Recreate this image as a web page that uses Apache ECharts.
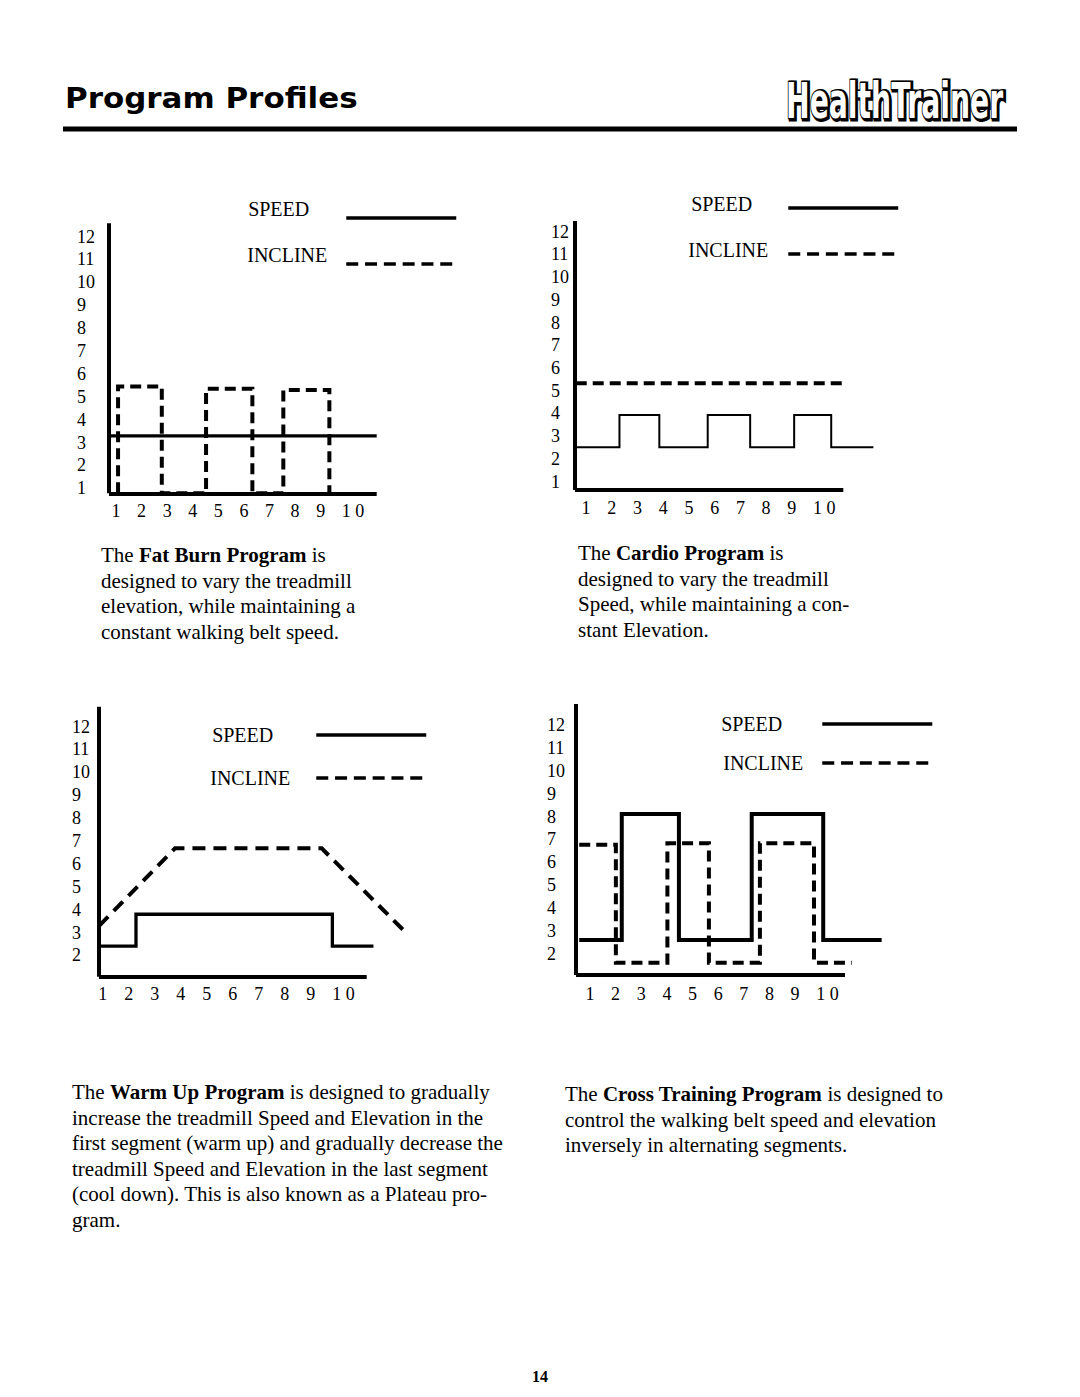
<!DOCTYPE html>
<html>
<head>
<meta charset="utf-8">
<script src="https://cdn.jsdelivr.net/npm/echarts@6/dist/echarts.min.js"></script>
<style>
html,body{margin:0;padding:0;background:#fff;}
#c{width:1080px;height:1397px;}
</style>
</head>
<body>
<div id="c"></div>
<script>
// ---------- data ----------
const xTickValues = [1, 2, 3, 4, 5, 6, 7, 8, 9, 10];
const yTickValues = [1, 2, 3, 4, 5, 6, 7, 8, 9, 10, 11, 12];
const legendNames = ['SPEED', 'INCLINE'];

// Fat Burn Program: [segment start, level] (step profiles)
const fatBurnSpeed = [[0.73, 3.29], [11.19, 3.29]];
const fatBurnIncline = [[1.08, 0.78], [1.08, 5.45], [2.79, 0.78], [4.52, 5.35], [6.33, 0.78], [7.54, 5.3], [9.34, 0.78]];

// Cardio Program
const cardioSpeed = [[0.6, 2.51], [2.30, 3.93], [3.85, 2.51], [5.73, 3.93], [7.38, 2.51], [9.09, 3.93], [10.53, 2.51], [12.17, 2.51]];
const cardioIncline = [[0.6, 5.33], [11.07, 5.33]];

// Warm Up Program
const warmUpSpeed = [[0.86, 2.41], [2.28, 3.80], [9.83, 2.41], [11.41, 2.41]];
const warmUpIncline = [[0.86, 3.29], [3.78, 6.68], [9.42, 6.68], [12.75, 2.89]];

// Cross Training Program
const crossSpeed = [[0.58, 2.60], [2.24, 8.11], [4.47, 2.60], [7.31, 8.11], [10.1, 2.60], [12.38, 2.60]];
const crossIncline = [[0.58, 6.76], [2.01, 1.61], [4.02, 6.83], [5.64, 1.61], [7.63, 6.83], [9.74, 1.61], [11.21, 1.61]];

// ---------- texts ----------
const pageTitle = 'Program Profiles';
const logoText = 'HealthTrainer';
const pageNumber = '14';
const captionFatBurn = 'The {b|Fat Burn Program} is\ndesigned to vary the treadmill\nelevation, while maintaining a\nconstant walking belt speed.';
const captionCardio = 'The {b|Cardio Program} is\ndesigned to vary the treadmill\nSpeed, while maintaining a con-\nstant Elevation.';
const captionWarmUp = 'The {b|Warm Up Program} is designed to gradually\nincrease the treadmill Speed and Elevation in the\nfirst segment (warm up) and gradually decrease the\ntreadmill Speed and Elevation in the last segment\n(cool down). This is also known as a Plateau pro-\ngram.';
const captionCross = 'The {b|Cross Training Program} is designed to\ncontrol the walking belt speed and elevation\ninversely in alternating segments.';

// ---------- build option ----------
const SERIF = 'Liberation Serif';

// visible axes boxes
const gridBoxes = [
  {left: 109, top: 223.3, width: 267.7, height: 270},
  {left: 575, top: 221, width: 268.3, height: 269},
  {left: 99, top: 706.7, width: 267.7, height: 270},
  {left: 576, top: 704, width: 269, height: 271}
];
const xRanges = [[0.726, 11.19], [0.572, 11.0], [0.858, 11.15], [0.454, 10.95]];
const yRanges = [[0.78, 12.58], [0.63, 12.47], [1.07, 12.87], [1.07, 12.92]];
const yLabelMargins = [32, 24, 27, 29];
const xLabelMargins = [9, 9, 8, 10];
const DATA_X_MAX = 13; // profiles run past the drawn x axis

// data boxes: same scale as the visible axes, extended to the right
const dataBoxes = gridBoxes.map((g, i) => {
  const ppu = g.width / (xRanges[i][1] - xRanges[i][0]);
  return {left: g.left, top: g.top, height: g.height, width: (DATA_X_MAX - xRanges[i][0]) * ppu};
});

const axisLineStyle = {color: '#000', width: 4, cap: 'butt'};

const xAxes = gridBoxes.map((g, i) => ({
  type: 'value', gridIndex: i, min: xRanges[i][0], max: xRanges[i][1],
  axisLine: {show: true, onZero: false, lineStyle: axisLineStyle},
  axisTick: {show: false}, splitLine: {show: false},
  axisLabel: {
    customValues: xTickValues, margin: xLabelMargins[i],
    fontFamily: SERIF, fontSize: 18, color: '#000',
    formatter: v => (v === 10 ? '{t|1 0}' : String(v)),
    rich: {t: {padding: [0, 0, 0, 13.5], fontFamily: SERIF, fontSize: 18, color: '#000'}}
  }
})).concat(dataBoxes.map((g, i) => ({
  type: 'value', gridIndex: 4 + i, min: xRanges[i][0], max: DATA_X_MAX, show: false
})));

const yAxes = gridBoxes.map((g, i) => ({
  type: 'value', gridIndex: i, min: yRanges[i][0], max: yRanges[i][1],
  axisLine: {show: true, onZero: false, lineStyle: axisLineStyle},
  axisTick: {show: false}, splitLine: {show: false},
  axisLabel: {
    customValues: yTickValues, align: 'left', margin: yLabelMargins[i],
    fontFamily: SERIF, fontSize: 18, color: '#000'
  }
})).concat(dataBoxes.map((g, i) => ({
  type: 'value', gridIndex: 4 + i, min: yRanges[i][0], max: yRanges[i][1], show: false
})));

function lineSeries(name, idx, data, width, dash, step) {
  const s = {
    name: name, type: 'line', xAxisIndex: 4 + idx, yAxisIndex: 4 + idx, data: data,
    symbol: 'none', clip: false, silent: true, animation: false,
    itemStyle: {color: '#000'},
    lineStyle: {color: '#000', width: width, type: dash || 'solid', join: 'miter', cap: 'butt'}
  };
  if (step) s.step = 'end';
  return s;
}
const DASH = [11, 6];
const series = [
  lineSeries(legendNames[0], 0, fatBurnSpeed, 3.3, null, false),
  lineSeries(legendNames[1], 0, fatBurnIncline, 4, DASH, true),
  lineSeries(legendNames[0], 1, cardioSpeed, 2, null, true),
  lineSeries(legendNames[1], 1, cardioIncline, 4, DASH, false),
  lineSeries(legendNames[0], 2, warmUpSpeed, 3.3, null, true),
  lineSeries(legendNames[1], 2, warmUpIncline, 4, [13, 8], false),
  lineSeries(legendNames[0], 3, crossSpeed, 4, null, true),
  lineSeries(legendNames[1], 3, crossIncline, 4, DASH, true)
];

// legend layouts: right edge, top, gap, text pads, text raise (px above the key line)
const legendLayouts = [
  {right: 622, top: 199, gap: 8, pads: [32, 14], raise: 9},
  {right: 180, top: 194, gap: 18, pads: [31, 15], raise: 4},
  {right: 652, top: 725, gap: 23, pads: [38, 21], raise: 0},
  {right: 146, top: 714, gap: 19, pads: [35, 14], raise: 0}
];
const legends = legendLayouts.map(L => ({
  orient: 'vertical', align: 'right', right: L.right, top: L.top, padding: 0,
  itemGap: L.gap, itemWidth: 110, itemHeight: 14, selectedMode: false,
  formatter: L.raise ? (n => n + '\n') : (n => n),
  textStyle: {fontFamily: SERIF, fontSize: 20, lineHeight: L.raise ? 2 * L.raise : 20, color: '#000'},
  lineStyle: {width: 3.5},
  itemStyle: {color: 'rgba(0,0,0,0)', borderWidth: 0},
  data: legendNames.map((n, k) => {
    const d = {name: n, textStyle: {padding: [0, L.pads[k], 0, 0]}};
    if (k === 1) d.lineStyle = {type: [12, 6.8], width: 3.5};
    return d;
  })
}));

function caption(text, x, y) {
  return {
    type: 'text', x: x, y: y, silent: true,
    style: {
      text: text, fontFamily: SERIF, fontSize: 21, lineHeight: 25.5, fill: '#000',
      verticalAlign: 'top', align: 'left',
      rich: {b: {fontFamily: SERIF, fontSize: 21, fontWeight: 'bold', lineHeight: 25.5, fill: '#000'}}
    }
  };
}

const graphic = [
  {type: 'text', x: 65, y: 98.5, scaleX: 1.105, silent: true,
   style: {text: pageTitle, fontFamily: 'DejaVu Sans', fontWeight: 'bold', fontSize: 28, fill: '#000', verticalAlign: 'middle'}},
  {type: 'text', x: 787.5, y: 102, scaleX: 0.565, silent: true,
   style: {text: logoText, fontFamily: 'DejaVu Sans', fontWeight: 'bold', fontSize: 50, fill: '#000', stroke: '#000', lineWidth: 5, verticalAlign: 'middle'}},
  {type: 'text', x: 786, y: 101, scaleX: 0.565, silent: true,
   style: {text: logoText, fontFamily: 'DejaVu Sans', fontWeight: 'bold', fontSize: 50, fill: '#fff', stroke: '#000', lineWidth: 2.5, verticalAlign: 'middle'}},
  {type: 'rect', silent: true, shape: {x: 63, y: 126.5, width: 954, height: 5}, style: {fill: '#000'}},
  caption(captionFatBurn, 101, 542.5),
  caption(captionCardio, 578, 540.5),
  caption(captionWarmUp, 72, 1079.5),
  caption(captionCross, 565, 1081.5),
  {type: 'text', x: 540, y: 1376, silent: true,
   style: {text: pageNumber, fontFamily: SERIF, fontWeight: 'bold', fontSize: 16, fill: '#000', align: 'center', verticalAlign: 'middle'}}
];

const chart = echarts.init(document.getElementById('c'), null, {renderer: 'svg'});
chart.setOption({
  animation: false,
  backgroundColor: '#fff',
  textStyle: {fontFamily: SERIF},
  grid: gridBoxes.concat(dataBoxes).map(g => Object.assign({containLabel: false}, g)),
  xAxis: xAxes,
  yAxis: yAxes,
  legend: legends,
  series: series,
  graphic: graphic
});
</script>
</body>
</html>
